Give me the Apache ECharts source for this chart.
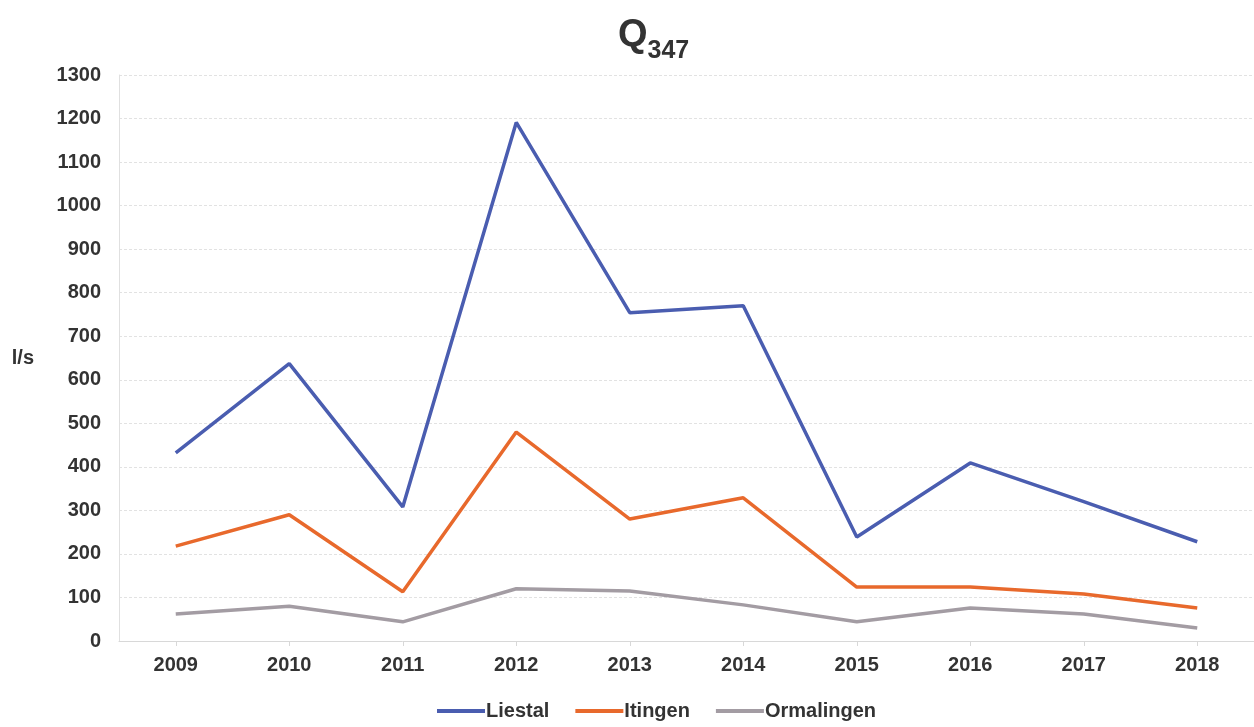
<!DOCTYPE html>
<html><head><meta charset="utf-8">
<script src="https://cdn.jsdelivr.net/npm/echarts@6/dist/echarts.min.js"></script>
<style>html,body{margin:0;padding:0;background:#fff}#c{width:1254px;height:727px}</style>
</head><body><div id="c"></div>
<script>
const categories = ['2009','2010','2011','2012','2013','2014','2015','2016','2017','2018'];
const liestal = [432, 637, 308, 1191, 754, 770, 239, 409, 320, 228];
const itingen = [218, 290, 113, 480, 280, 329, 124, 124, 108, 76];
const ormalingen = [62, 80, 44, 120, 115, 83, 44, 76, 62, 30];
const yTicks = {min: 0, max: 1300, interval: 100};

const chart = echarts.init(document.getElementById('c'));
const font = 'Liberation Sans, Arial, sans-serif';
function line(name, data, color) {
  return {name, type: 'line', data, symbol: 'none', smooth: false,
    lineStyle: {color, width: 3.5}, itemStyle: {color}};
}
chart.setOption({
  animation: false,
  title: {
    text: '{q|Q}{s|347}', left: 613, top: 6,
    textStyle: {rich: {
      q: {fontFamily: font, fontWeight: 'bold', fontSize: 38, color: '#333', verticalAlign: 'bottom', lineHeight: 44},
      s: {fontFamily: font, fontWeight: 'bold', fontSize: 25, color: '#333', verticalAlign: 'bottom', lineHeight: 44, padding: [0,0,-9,0]}
    }}
  },
  legend: {
    bottom: 1, left: 432, itemWidth: 48, itemHeight: 4, itemGap: 26,
    icon: 'rect',
    textStyle: {fontFamily: font, fontSize: 20, color: '#333', fontWeight: 'bold', padding: [0,0,0,-4]},
    data: ['Liestal','Itingen','Ormalingen']
  },
  grid: {left: 119, right: 0, top: 75, bottom: 86, containLabel: false},
  xAxis: {
    type: 'category', data: categories, boundaryGap: true,
    axisLine: {lineStyle: {color: '#d8d8d8', width: 1}},
    axisTick: {show: true, alignWithLabel: true, length: 5, lineStyle: {color: '#d8d8d8'}},
    axisLabel: {fontFamily: font, fontSize: 20, fontWeight: 'bold', color: '#333', margin: 14}
  },
  yAxis: {
    type: 'value', min: yTicks.min, max: yTicks.max, interval: yTicks.interval,
    name: 'l/s', nameLocation: 'middle', nameRotate: 0, nameGap: 85,
    nameTextStyle: {fontFamily: font, fontSize: 20, fontWeight: 'bold', color: '#333'},
    axisLine: {show: true, lineStyle: {color: '#e0e0e0'}},
    axisTick: {show: false},
    splitLine: {lineStyle: {color: '#e2e2e2', type: [3,2], width: 1}},
    axisLabel: {fontFamily: font, fontSize: 20, fontWeight: 'bold', color: '#333', margin: 18,
      formatter: v => String(v)}
  },
  series: [
    line('Liestal', liestal, '#4a5db0'),
    line('Itingen', itingen, '#e8692c'),
    line('Ormalingen', ormalingen, '#a39ca3')
  ]
});
</script></body></html>
